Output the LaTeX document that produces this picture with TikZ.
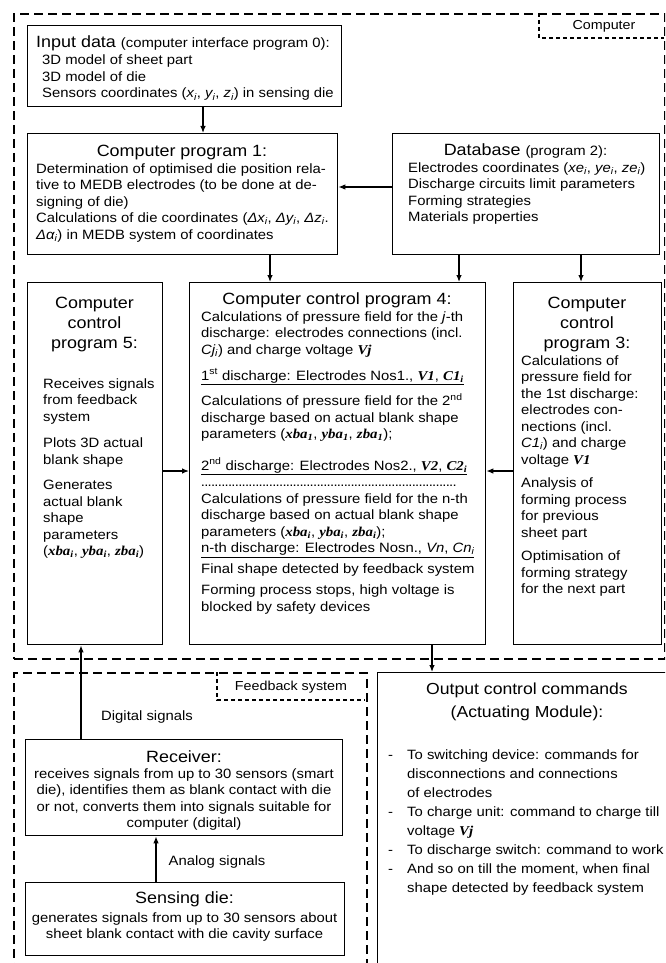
\documentclass[tikz,border=0pt]{standalone}
\usepackage{fontspec}
\setmainfont{Liberation Sans}[FakeStretch=1.1]
\newfontfamily\vbfont{Liberation Serif}[FakeStretch=1.1]
\usetikzlibrary{arrows.meta}
\newcommand\hdfont{\fontsize{16.3}{20}\selectfont}
\newcommand\txtfont{\fontsize{13.5}{16.5}\selectfont}
\newcommand\isub[1]{\textit{#1\textsubscript{i}}}
\newcommand\vb[1]{{\vbfont\bfseries\itshape #1}}
\newcommand\vs[2]{{\vbfont\bfseries\itshape #1\textsubscript{#2}}}
\newcommand\dotrow{\hbox to 258pt{\leaders\hbox to 3.4pt{\hss.\hss}\hfill}}
% first line of a block sits on the node's base
\newcommand\tl[1]{\begin{tabular}[t]{@{}l@{}}#1\end{tabular}}
\newcommand\tc[1]{\begin{tabular}[t]{@{}c@{}}#1\end{tabular}}
\tikzset{ box/.style = { draw
                       , line width   = 1.3pt
                       , inner sep    = 0pt
                       , anchor       = north west
                       },
          group/.style = { draw
                         , line width   = 1.6pt
                         , dash pattern = on 9pt off 5pt
                         , inner sep    = 0pt
                         , anchor       = north west
                         },
          tag/.style = { line width   = 1.2pt
                       , dash pattern = on 4pt off 3pt
                       },
          hd/.style = { inner sep = 0pt
                      , anchor    = base
                      , font      = \hdfont
                      },
          txt/.style = { inner sep = 0pt
                       , anchor    = base west
                       , font      = \txtfont
                       },
          arr/.style = { -{Latex[length=7pt, width=5.5pt]}
                       , line width = 1.2pt
                       }
        }
\begin{document}
\begin{tikzpicture}[x=1pt, y=-1pt]
    \useasboundingbox (0,0) rectangle (665,963);
    \clip (0,0) rectangle (665,963);
    % dashed groups
    \node[group, minimum width=651pt, minimum height=645pt] (computer) at (13,13) {};
    \draw[tag] (539,13) -- (539,38) -- (664,38);
    \node[txt, anchor=base, font=\fontsize{13}{15}\selectfont] (computert) at (604,30) {Computer};
    \node[group, minimum width=353pt, minimum height=320pt] (feedback) at (13,672) {};
    \draw[tag] (217,672) -- (217,700) -- (365,700);
    \node[txt, anchor=base, font=\fontsize{13}{15}\selectfont] (feedbackt) at (291,690) {Feedback system};

    % boxes
    \node[box, minimum width=314pt, minimum height=81pt]  (in0) at (27,25) {};
    \node[box, minimum width=310pt, minimum height=121pt] (p1)  at (27,133) {};
    \node[box, minimum width=267pt, minimum height=121pt] (db)  at (392,133) {};
    \node[box, minimum width=135pt, minimum height=362pt] (p5)  at (27,282) {};
    \node[box, minimum width=296pt, minimum height=362pt] (p4)  at (189,282) {};
    \node[box, minimum width=148pt, minimum height=362pt] (p3)  at (513,282) {};
    \node[box, minimum width=317pt, minimum height=96pt]  (rx)  at (25,739) {};
    \node[box, minimum width=319pt, minimum height=73pt]  (sd)  at (25,882) {};
    \node[box, minimum width=320pt, minimum height=330pt] (out) at (377,672) {};

    % input data
    \node[hd, anchor=base west] (in0h) at (36,48) {Input data {\txtfont(computer interface program 0):}};
    \node[txt] (in0t) at (42,65) {\tl{3D model of sheet part\\
        3D model of die\\
        Sensors coordinates (\isub{x}, \isub{y}, \isub{z}) in sensing die}};

    % program 1
    \node[hd] (p1h) at (182,157) {Computer program 1:};
    \node[txt] (p1t) at (36,173) {\tl{Determination of optimised die position rela-\\
        tive to MEDB electrodes (to be done at de-\\
        signing of die)\\
        Calculations of die coordinates (\isub{Δx}, \isub{Δy}, \isub{Δz}.\\
        \isub{Δα}) in MEDB system of coordinates}};

    % database
    \node[hd] (dbh) at (525.5,155) {Database {\txtfont(program 2):}};
    \node[txt] (dbt) at (408,172) {\tl{Electrodes coordinates (\isub{xe}, \isub{ye}, \isub{ze})\\
        Discharge circuits limit parameters\\
        Forming strategies\\
        Materials properties}};

    % program 5
    \node[hd] (p5h) at (94.5,308) {\tc{Computer\\control\\program 5:}};
    \node[txt] (p5t) at (43,388) {\tl{Receives signals\\from feedback\\system\\[10pt]
        Plots 3D actual\\blank shape\\[9pt]
        Generates\\actual blank\\shape\\parameters\\
        (\vs{xba}{i}, \vs{yba}{i}, \vs{zba}{i})}};

    % program 4
    \node[hd] (p4h) at (337,304) {Computer control program 4:};
    \node[txt] (p4t) at (201,321) {\tl{Calculations of pressure field for the \textit{j}-th\\
        discharge: electrodes connections (incl.\\
        \isub{Cj}) and charge voltage \vb{Vj}\\[9.5pt]
        \underline{1\textsuperscript{st} discharge: Electrodes Nos1., \vb{V1}, \vs{C1}{i}}\\[8.5pt]
        Calculations of pressure field for the 2\textsuperscript{nd}\\
        discharge based on actual blank shape\\
        parameters (\vs{xba}{1}, \vs{yba}{1}, \vs{zba}{1});\\[14.5pt]
        \underline{2\textsuperscript{nd} discharge: Electrodes Nos2., \vb{V2}, \vs{C2}{i}}\\
        \dotrow\\
        Calculations of pressure field for the n-th\\
        discharge based on actual blank shape\\
        parameters (\vs{xba}{i}, \vs{yba}{i}, \vs{zba}{i});\\
        \underline{n-th discharge: Electrodes Nosn., \textit{Vn}, \isub{Cn}}\\[4.5pt]
        Final shape detected by feedback system\\[4.5pt]
        Forming process stops, high voltage is\\
        blocked by safety devices}};

    % program 3
    \node[hd] (p3h) at (587,308) {\tc{Computer\\control\\program 3:}};
    \node[txt] (p3t) at (521,365) {\tl{Calculations of\\pressure field for\\the 1st discharge:\\
        electrodes con-\\nections (incl.\\\isub{C1}) and charge\\voltage \vb{V1}\\[7pt]
        Analysis of\\forming process\\for previous\\sheet part\\[7pt]
        Optimisation of\\forming strategy\\for the next part}};

    % feedback system
    \node[hd] (rxh) at (184,762) {Receiver:};
    \node[txt, anchor=base] (rxt) at (184,778) {\tc{receives signals from up to 30 sensors (smart\\
        die), identifies them as blank contact with die\\
        or not, converts them into signals suitable for\\
        computer (digital)}};
    \node[hd] (sdh) at (184.5,903) {Sensing die:};
    \node[txt, anchor=base] (sdt) at (184.5,922) {\tc{generates signals from up to 30 sensors about\\
        sheet blank contact with die cavity surface}};
    \node[txt, anchor=base] (digital) at (147,720) {Digital signals};
    \node[txt, anchor=base] (analog) at (217,865) {Analog signals};

    % output
    \node[hd, font=\fontsize{16}{23}\selectfont] (outh) at (527,694) {\tc{Output control commands\\(Actuating Module):}};
    \node[txt, font=\fontsize{13.5}{19}\selectfont] (outt) at (388,759) {\tl{%
        \makebox[19pt][l]{-}To switching device: commands for\\
        \hspace*{19pt}disconnections and connections\\
        \hspace*{19pt}of electrodes\\
        \makebox[19pt][l]{-}To charge unit: command to charge till\\
        \hspace*{19pt}voltage \vb{Vj}\\
        \makebox[19pt][l]{-}To discharge switch: command to work\\
        \makebox[19pt][l]{-}And so on till the moment, when final\\
        \hspace*{19pt}shape detected by feedback system}};

    % connectors
    \coordinate (a1) at (203,0);
    \coordinate (a2) at (270,0);
    \coordinate (a3) at (459,0);
    \coordinate (a4) at (581,0);
    \coordinate (a5) at (432,0);
    \coordinate (a6) at (81,0);
    \coordinate (a7) at (156,0);
    \coordinate (h1) at (0,187);
    \coordinate (h2) at (0,471);
    \draw[arr] (in0.south -| a1) -- (p1.north -| a1);
    \draw[arr] (db.west |- h1) -- (p1.east |- h1);
    \draw[arr] (p1.south -| a2) -- (p4.north -| a2);
    \draw[arr] (db.south -| a3) -- (p4.north -| a3);
    \draw[arr] (db.south -| a4) -- (p3.north -| a4);
    \draw[arr] (p5.east |- h2) -- (p4.west |- h2);
    \draw[arr] (p3.west |- h2) -- (p4.east |- h2);
    \draw[arr] (p4.south -| a5) -- (out.north -| a5);
    \draw[arr] (rx.north -| a6) -- (p5.south -| a6);
    \draw[arr] (sd.north -| a7) -- (rx.south -| a7);
\end{tikzpicture}
\end{document}
